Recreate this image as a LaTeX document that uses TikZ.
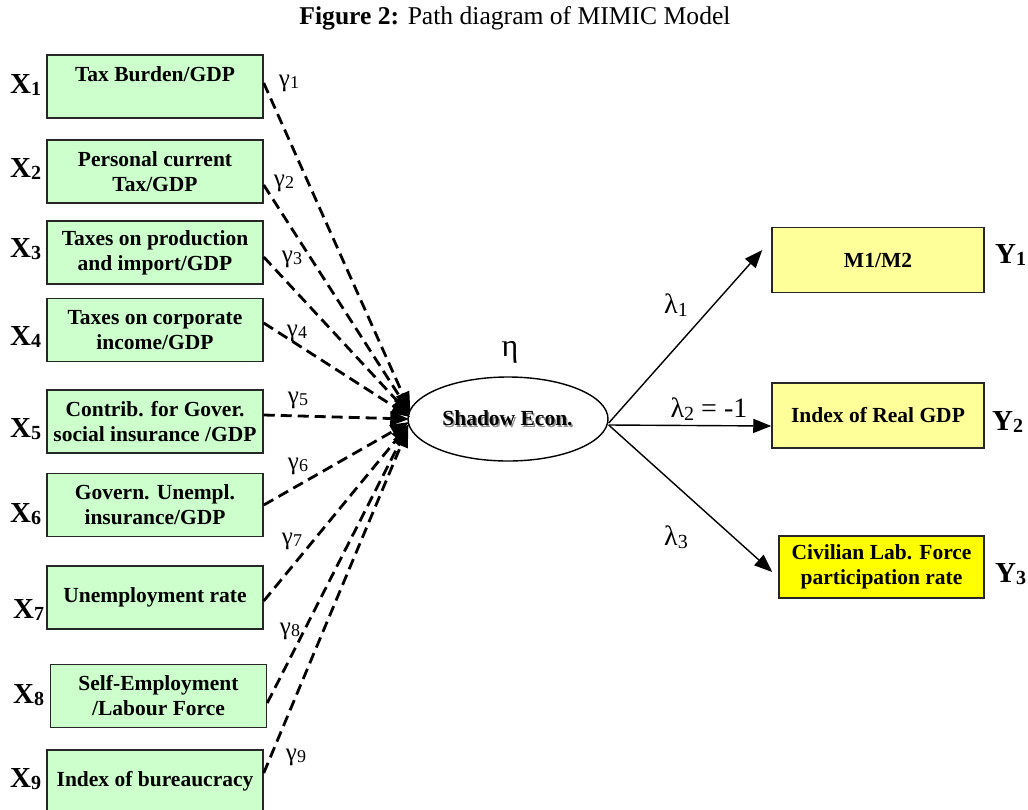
\documentclass[tikz,border=0pt]{standalone}
\usepackage{fontspec}
\setmainfont{Liberation Serif}
\usetikzlibrary{arrows.meta,shapes.geometric}
\definecolor{boxgreen}{HTML}{CCFFCC}
\definecolor{boxyellow}{HTML}{FFFF99}
\definecolor{boxbright}{HTML}{FFFF00}
\newcommand\gsub[2]{{\fontsize{25}{25}\selectfont #1\raisebox{-2.5pt}{\fontsize{18}{18}\selectfont #2}}}
\newcommand\lsub[2]{{\fontsize{28}{28}\selectfont #1\raisebox{-3pt}{\fontsize{20}{20}\selectfont #2}}}
\newcommand\varlab[2]{{\fontsize{29}{29}\selectfont\bfseries #1\raisebox{-2pt}{\fontsize{20}{20}\selectfont #2}}}
\tikzset{
  xbox/.style={draw=black!85, line width=1.5pt, fill=boxgreen, minimum width=216pt, minimum height=63pt,
    inner sep=0pt, align=center, font=\fontsize{21.5}{25}\selectfont\bfseries},
  ybox/.style={draw=black!85, line width=1.5pt, fill=boxyellow, minimum width=212pt, minimum height=65pt,
    inner sep=0pt, align=center, font=\fontsize{21.5}{25}\selectfont\bfseries},
  dasharrow/.style={line width=2.8pt, dash pattern=on 11pt off 6pt, -{Triangle[length=19pt,width=14pt]}},
  solidarrow/.style={line width=1.4pt, -{Triangle[length=18pt,width=14pt]}},
  lab/.style={inner sep=0pt},
}
\begin{document}
\begin{tikzpicture}[x=1pt,y=-1pt]
\useasboundingbox (0,0) rectangle (1028,809);
\clip (0,0) rectangle (1028,809);
% title
\node[lab, font=\fontsize{25.6}{30}\selectfont] (title) at (515,18) {\textbf{Figure 2:} Path diagram of MIMIC Model};
% left boxes
\node[xbox] (b1) at (155,86.5) {Tax Burden/GDP\\ ~};
\node[xbox] (b2) at (155,171.5) {Personal current\\Tax/GDP};
\node[xbox] (b3) at (155,252.5) {Taxes on production\\and import/GDP};
\node[xbox] (b4) at (155,330) {Taxes on corporate\\income/GDP};
\node[xbox] (b5) at (155,421.5) {Contrib. for Gover.\\social insurance /GDP};
\node[xbox] (b6) at (155,505) {Govern. Unempl.\\insurance/GDP};
\node[xbox] (b7) at (155,597.5) {Unemployment rate};
\node[xbox] (b8) at (158.5,696) {Self-Employment\\/Labour Force};
\node[xbox] (b9) at (155,781.5) {Index of bureaucracy};
% X labels
\node[lab, anchor=base west] (x1) at (10,93) {\varlab{X}{1}};
\node[lab, anchor=base west] (x2) at (10,177) {\varlab{X}{2}};
\node[lab, anchor=base west] (x3) at (10,257) {\varlab{X}{3}};
\node[lab, anchor=base west] (x4) at (10,345) {\varlab{X}{4}};
\node[lab, anchor=base west] (x5) at (10,437) {\varlab{X}{5}};
\node[lab, anchor=base west] (x6) at (10,522) {\varlab{X}{6}};
\node[lab, anchor=base west] (x7) at (13,618) {\varlab{X}{7}};
\node[lab, anchor=base west] (x8) at (13,703) {\varlab{X}{8}};
\node[lab, anchor=base west] (x9) at (10,787) {\varlab{X}{9}};
% latent
\node[ellipse, draw, line width=1.4pt, minimum width=200pt, minimum height=84pt, inner sep=0pt] (el) at (508,419) {};
\node[lab, text=black!45, font=\fontsize{21.5}{25}\selectfont\bfseries] (shadowtxt) at (509,420) {Shadow Econ.};
\node[lab, font=\fontsize{21.5}{25}\selectfont\bfseries] (eltxt) at (507.5,418) {Shadow Econ.};
\node[lab, font=\fontsize{32}{32}\selectfont] (eta) at (510,352) {η};
% right boxes
\node[ybox] (y1) at (878,260) {M1/M2};
\node[ybox] (y2) at (878,415.5) {Index of Real GDP};
\node[ybox, fill=boxbright, minimum width=205pt, minimum height=62pt] (y3) at (881.5,567) {Civilian Lab. Force\\participation rate};
\node[lab, anchor=base west] (ylab1) at (995,263) {\varlab{Y}{1}};
\node[lab, anchor=base west] (ylab2) at (992,430) {\varlab{Y}{2}};
\node[lab, anchor=base west] (ylab3) at (995,582) {\varlab{Y}{3}};
% dashed paths
\draw[dasharrow] ([yshift=3.5pt]b1.east) -- ([xshift=3pt,yshift=8pt]el.west);
\draw[dasharrow] ([yshift=-13.5pt]b2.east) -- ([xshift=3pt,yshift=6pt]el.west);
\draw[dasharrow] ([yshift=-4.5pt]b3.east) -- ([xshift=3pt,yshift=4pt]el.west);
\draw[dasharrow] ([yshift=7pt]b4.east) -- ([xshift=3pt,yshift=2pt]el.west);
\draw[dasharrow] ([yshift=6.5pt]b5.east) -- ([xshift=2pt,yshift=0pt]el.west);
\draw[dasharrow] (b6.east) -- ([xshift=2pt,yshift=-3pt]el.west);
\draw[dasharrow] ([yshift=-3.5pt]b7.east) -- ([xshift=2pt,yshift=-5pt]el.west);
\draw[dasharrow] ([yshift=-7pt]b8.east) -- ([xshift=1pt,yshift=-7pt]el.west);
\draw[dasharrow] ([yshift=8.5pt]b9.east) -- ([xshift=1pt,yshift=-9pt]el.west);
% gamma labels
\node[lab] (g1) at (289,83) {\gsub{γ}{1}};
\node[lab] (g2) at (284,183) {\gsub{γ}{2}};
\node[lab] (g3) at (292,259) {\gsub{γ}{3}};
\node[lab] (g4) at (297,333) {\gsub{γ}{4}};
\node[lab] (g5) at (298,400) {\gsub{γ}{5}};
\node[lab] (g6) at (298,466) {\gsub{γ}{6}};
\node[lab] (g7) at (292,541) {\gsub{γ}{7}};
\node[lab] (g8) at (290,631) {\gsub{γ}{8}};
\node[lab] (g9) at (296,757) {\gsub{γ}{9}};
% solid paths
\draw[solidarrow] ([yshift=-4pt]el.east) -- ([xshift=-9pt,yshift=10pt]y1.west);
\draw[solidarrow] ([yshift=-6pt]el.east) -- ([yshift=-10.5pt]y2.west);
\draw[solidarrow] ([yshift=-6pt]el.east) -- ([xshift=-6pt,yshift=-5pt]y3.west);
% lambda labels
\node[lab] (l1) at (676,305) {\lsub{λ}{1}};
\node[lab] (l2) at (709,409) {\lsub{λ}{2}{\fontsize{28}{28}\selectfont\ = -1}};
\node[lab] (l3) at (676,537) {\lsub{λ}{3}};
\end{tikzpicture}
\end{document}
